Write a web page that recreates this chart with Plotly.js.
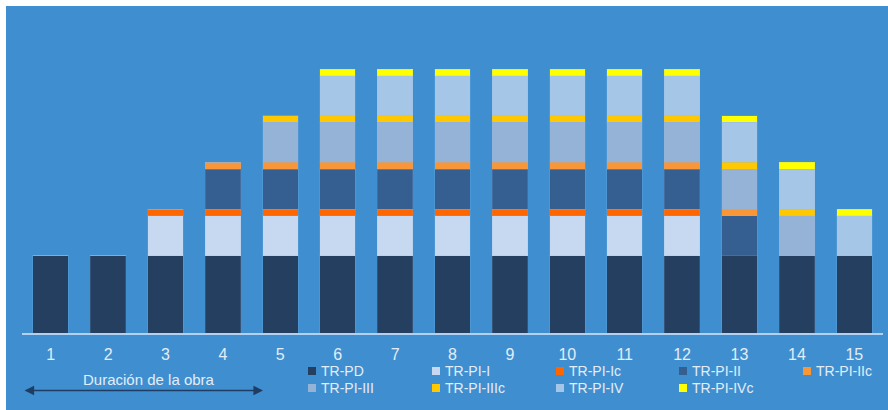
<!DOCTYPE html>
<html>
<head>
<meta charset="utf-8">
<script src="https://cdn.plot.ly/plotly-3.0.1.min.js"></script>
<style>
  html, body { margin: 0; padding: 0; background: #ffffff; }
  #chart { position: absolute; left: 6px; top: 6px; width: 882px; height: 404px; }
</style>
</head>
<body>
<div id="chart"></div>
<script>
// ---- data ----
const categories = ['1','2','3','4','5','6','7','8','9','10','11','12','13','14','15'];
const seriesNames = ['TR-PD','TR-PI-I','TR-PI-Ic','TR-PI-II','TR-PI-IIc','TR-PI-III','TR-PI-IIIc','TR-PI-IV','TR-PI-IVc'];
const trPD     = [11.6,11.6,11.6,11.6,11.6,11.6,11.6,11.6,11.6,11.6,11.6,11.6,11.6,11.6,11.6];
const trPI_I   = [0,0,6,6,6,6,6,6,6,6,6,6,0,0,0];
const trPI_Ic  = [0,0,1,1,1,1,1,1,1,1,1,1,0,0,0];
const trPI_II  = [0,0,0,6,6,6,6,6,6,6,6,6,6,0,0];
const trPI_IIc = [0,0,0,1,1,1,1,1,1,1,1,1,1,0,0];
const trPI_III = [0,0,0,0,6,6,6,6,6,6,6,6,6,6,0];
const trPI_IIIc= [0,0,0,0,1,1,1,1,1,1,1,1,1,1,0];
const trPI_IV  = [0,0,0,0,0,6,6,6,6,6,6,6,6,6,6];
const trPI_IVc = [0,0,0,0,0,1,1,1,1,1,1,1,1,1,1];
const seriesValues = [trPD, trPI_I, trPI_Ic, trPI_II, trPI_IIc, trPI_III, trPI_IIIc, trPI_IV, trPI_IVc];
const xAxisCaption = 'Duración de la obra';

// ---- styles ----
const colors = ['#243f60','#c6d9f1','#ff6600','#355f91','#f99638','#95b3d7','#ffc800','#a6c6e8','#ffff00'];
const bg = '#3f8fd0';
const txt = '#e3edf7';
const FONT = 'Liberation Sans, Arial, sans-serif';

const traces = seriesValues.map((vals, i) => ({
  type: 'bar',
  name: seriesNames[i],
  x: categories,
  y: vals,
  marker: { color: colors[i], line: { width: 1, color: 'rgba(140,185,230,0.18)' } },
  showlegend: false,
  hoverinfo: 'x+y+name'
}));

// pixel (page) -> paper helpers: plot area spans page x 22..883, y 20..333
const PL = 22, PW = 861, PB = 333, PH = 313;
const px = v => (v - PL) / PW;
const py = v => (PB - v) / PH;

// custom legend (5 columns x 2 rows)
const colX = [308, 432, 556, 679, 803];
const rowY = [371, 388];
const shapes = [];
const annotations = [];
seriesNames.forEach((n, i) => {
  const c = i % 5, r = Math.floor(i / 5);
  const x0 = colX[c], yc = rowY[r];
  shapes.push({
    type: 'rect', xref: 'paper', yref: 'paper',
    x0: px(x0), x1: px(x0 + 8), y0: py(yc + 4), y1: py(yc - 4),
    fillcolor: colors[i], line: { width: 0 }
  });
  annotations.push({
    xref: 'paper', yref: 'paper', x: px(x0 + 11), y: py(yc),
    xanchor: 'left', yanchor: 'middle', showarrow: false,
    text: n, font: { family: FONT, size: 14, color: txt }
  });
});

// caption + double arrow
annotations.push({
  xref: 'paper', yref: 'paper', x: px(149), y: py(379),
  xanchor: 'center', yanchor: 'middle', showarrow: false,
  text: xAxisCaption, font: { family: FONT, size: 15, color: txt }
});
annotations.push({
  xref: 'paper', yref: 'paper', axref: 'paper', ayref: 'paper',
  x: px(263), y: py(390.5), ax: px(23), ay: py(390.5),
  text: '', showarrow: true, arrowside: 'end+start', arrowhead: 2,
  arrowsize: 1.2, arrowwidth: 1.6, arrowcolor: '#1f3d63', standoff: 0, startstandoff: 0
});

const layout = {
  width: 882, height: 404,
  margin: { l: 16, r: 5, t: 14, b: 77 },
  paper_bgcolor: bg, plot_bgcolor: bg,
  barmode: 'stack', bargap: 0.38,
  showlegend: false,
  font: { family: FONT, color: txt },
  xaxis: {
    type: 'category', range: [-0.5, 14.5],
    showgrid: false, zeroline: false,
    showline: true, linecolor: '#b3d1ee', linewidth: 2,
    ticks: '', tickfont: { family: FONT, size: 16, color: txt },
    ticklabelstandoff: 6, fixedrange: true
  },
  yaxis: {
    range: [0, 46.95], visible: false, showgrid: false, zeroline: false, fixedrange: true
  },
  shapes: shapes,
  annotations: annotations
};

Plotly.newPlot('chart', traces, layout, { displayModeBar: false, staticPlot: true });
</script>
</body>
</html>
